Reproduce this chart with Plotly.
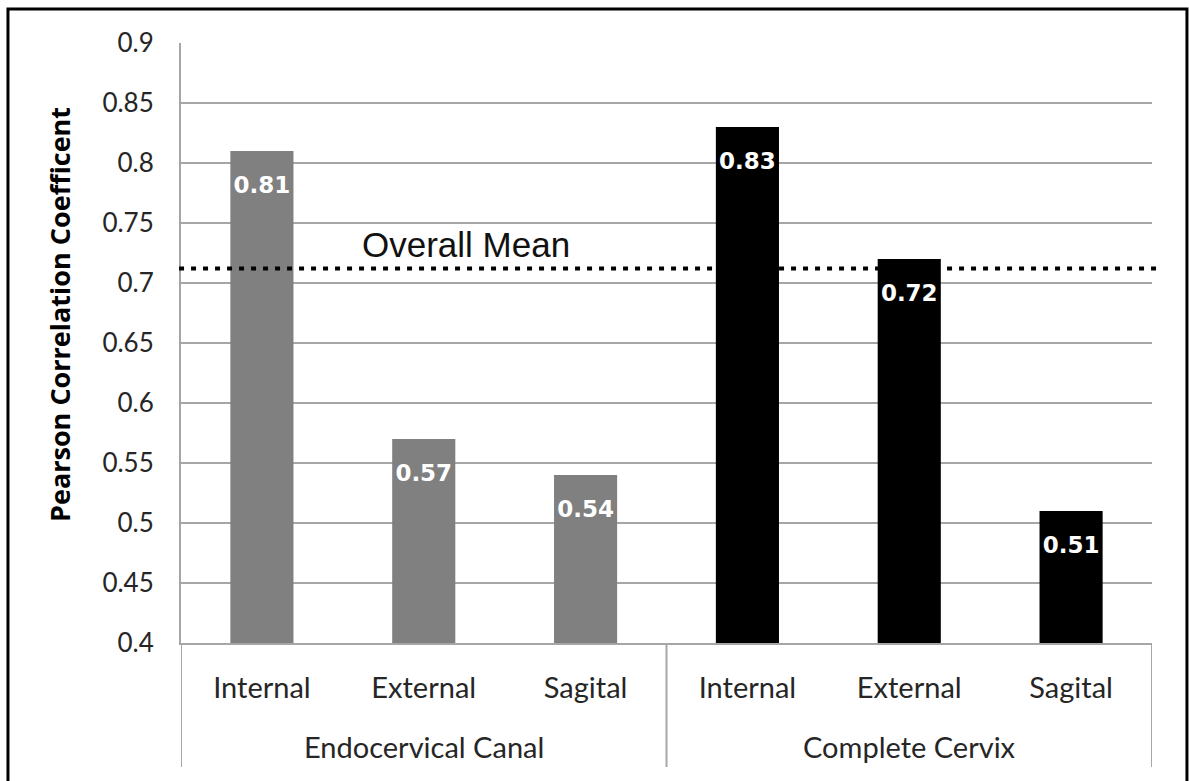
import plotly.graph_objects as go

# Pearson correlation by measurement, grouped by region
group_names = ["Endocervical Canal", "Complete Cervix"]
measures = ["Internal", "External", "Sagital", "Internal", "External", "Sagital"]
groups = ["Endocervical Canal"] * 3 + ["Complete Cervix"] * 3
values = [0.81, 0.57, 0.54, 0.83, 0.72, 0.51]
group_colors = {"Endocervical Canal": "#808080", "Complete Cervix": "#000000"}

overall_mean = 0.712
label_drop = 0.03  # value labels sit just below each bar's top

y_ticks = [0.4, 0.45, 0.5, 0.55, 0.6, 0.65, 0.7, 0.75, 0.8, 0.85, 0.9]
y_tick_text = ["0.4", "0.45", "0.5", "0.55", "0.6", "0.65", "0.7", "0.75", "0.8", "0.85", "0.9"]

AXIS_GRAY = "#a6a6a6"
TEXT_DARK = "#262626"
LABEL_FONT = "Lato"

positions = list(range(len(values)))

fig = go.Figure()

fig.add_trace(go.Bar(
    x=positions,
    y=values,
    width=0.39,
    marker=dict(color=[group_colors[g] for g in groups], line=dict(width=0)),
    hoverinfo="skip",
    showlegend=False,
))

fig.add_trace(go.Scatter(
    x=positions,
    y=[v - label_drop for v in values],
    mode="text",
    text=[f"{v:.2f}" for v in values],
    textposition="middle center",
    textfont=dict(family="DejaVu Sans", size=23, color="white", weight="bold"),
    hoverinfo="skip",
    showlegend=False,
))

# dotted reference line for the overall mean
fig.add_shape(
    type="line", xref="paper", yref="y",
    x0=-0.002, x1=1.005, y0=overall_mean, y1=overall_mean,
    line=dict(color="black", width=4, dash="5px,7px"),
    layer="above",
)

fig.add_annotation(
    text="Overall Mean", xref="paper", yref="y",
    x=0.2935, y=0.7325, xanchor="center", yanchor="middle", showarrow=False,
    font=dict(family="Liberation Sans", size=35, color="#111111"),
)

# group labels under the measure labels, with dividers between groups
boundaries = [-0.5]
for name in group_names:
    idx = [i for i, g in enumerate(groups) if g == name]
    center = sum(idx) / len(idx)
    fig.add_annotation(
        text=name, xref="x", yref="paper",
        x=center, y=-0.1733, xanchor="center", yanchor="middle", showarrow=False,
        font=dict(family=LABEL_FONT, size=29, color=TEXT_DARK),
    )
    boundaries.append(max(idx) + 0.5)

for b in boundaries:
    fig.add_shape(
        type="line", xref="x", yref="paper",
        x0=b, x1=b, y0=0, y1=-0.2067,
        line=dict(color=AXIS_GRAY, width=2),
    )

# rotated axis title
fig.add_annotation(
    text="Pearson Correlation Coefficent", xref="paper", yref="paper",
    x=-0.1246, y=0.5467, xanchor="center", yanchor="middle",
    textangle=-90, showarrow=False,
    font=dict(family="Open Sans", size=27, color="black", weight="bold"),
)

# frame around the whole figure
fig.add_shape(
    type="rect", xref="paper", yref="paper",
    x0=-0.1782, x1=1.036, y0=-0.26, y1=1.0567,
    line=dict(color="black", width=3),
    fillcolor="rgba(0,0,0,0)",
)

fig.update_layout(
    width=1189, height=781,
    margin=dict(l=181, r=37, t=43, b=138),
    paper_bgcolor="white", plot_bgcolor="white",
    xaxis=dict(
        range=[-0.5, len(values) - 0.5],
        tickvals=positions, ticktext=measures,
        showline=True, linecolor=AXIS_GRAY, linewidth=2,
        showgrid=False, zeroline=False, ticks="",
        ticklabelstandoff=18,
        tickfont=dict(family=LABEL_FONT, size=29, color=TEXT_DARK),
    ),
    yaxis=dict(
        range=[0.4, 0.9],
        tickvals=y_ticks, ticktext=y_tick_text,
        showgrid=True, gridcolor=AXIS_GRAY, gridwidth=2,
        showline=True, linecolor=AXIS_GRAY, linewidth=2,
        zeroline=False, ticks="",
        ticklabelstandoff=20,
        tickfont=dict(family=LABEL_FONT, size=26, color=TEXT_DARK),
    ),
)

fig.write_html("out.html")
